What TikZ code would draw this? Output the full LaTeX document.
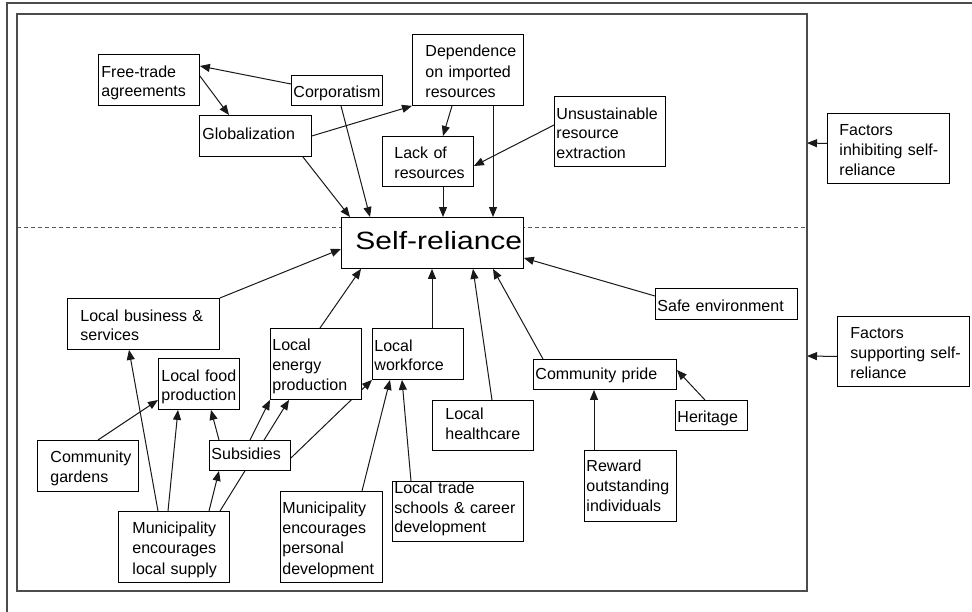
\documentclass[tikz,border=0pt]{standalone}
\usepackage{fontspec}
\setmainfont{Liberation Sans}
\usepackage{graphicx}
\usetikzlibrary{arrows.meta}
\pgfdeclarelayer{background}
\pgfsetlayers{background,main}

% text of the boxes
\newcommand\boxfont{\fontsize{16}{19.5}\selectfont}
% left-aligned lines, optionally raised by #1 pt
\newcommand\txtlines[2][0]{\setbox\strutbox\hbox{\vrule height 17pt depth 2.5pt width 0pt}%
  \raisebox{#1pt}[\height][\depth]{\begin{tabular}{@{}l@{}}#2\end{tabular}}}

\tikzset{
  box/.style={draw=black, line width=0.9pt, fill=white, anchor=north west,
    inner ysep=0pt, align=left, font=\boxfont},
  arr/.style={draw=black!90, line width=1pt, -{Triangle[length=10pt,width=8pt]}},
  frameline/.style={draw=black!70, line width=1.3pt},
  divider/.style={draw=black!65, line width=0.8pt, dash pattern=on 4pt off 3pt}
}

% \mkbox[raise]{name}{x}{y}{width}{height}{padding}{text}
\newcommand\mkbox[8][0]{%
  \pgfmathsetmacro\boxtw{#5-2*#7}%
  \node[box, inner xsep=#7pt, text width=\boxtw pt, minimum width=#5pt,
    minimum height=#6pt] (#2) at (#3,#4) {\txtlines[#1]{#8}};}

\begin{document}
\begin{tikzpicture}[x=1pt, y=-1pt]
\useasboundingbox (0,0) rectangle (972,611);
\clip (0,0) rectangle (972,611);
\begin{pgfonlayer}{background}
  \fill[white] (0,0) rectangle (972,611);
\end{pgfonlayer}

% outer and inner frames
\draw[frameline] (7,3) rectangle (985,625);
\node[frameline, anchor=north west, minimum width=790pt, minimum height=577pt,
  inner sep=0pt, outer sep=0pt] (frame) at (17,14) {};

% factors inhibiting self-reliance
\mkbox{ft}{98}{54}{101}{51}{3}{Free-trade\\agreements}
\mkbox{corp}{291}{75}{91}{30}{2}{Corporatism}
\mkbox[4]{glob}{199}{115}{112}{41}{3}{Globalization}
\mkbox{dep}{412}{34}{111}{71}{13}{Dependence\\on imported\\resources}
\mkbox{lack}{382}{136}{91}{50}{12}{Lack of\\resources}
\mkbox{uns}{554}{96}{111}{70}{2}{Unsustainable\\resource\\extraction}

% central node
\node[box, font=\fontsize{25}{30}\selectfont, inner xsep=14pt, text width=154pt,
  minimum width=182pt, minimum height=51pt, text height=20pt, text depth=7pt]
  (sr) at (341,217) {\scalebox{1.2}[1]{Self-reliance}};

% factors supporting self-reliance
\mkbox{lb}{67}{298}{152}{51}{13}{Local business \&\\services}
\mkbox{lfp}{158}{358}{81}{51}{3}{Local food\\production}
\mkbox{len}{270}{328}{91}{71}{2}{Local\\energy\\production}
\mkbox{lw}{372}{328}{91}{51}{2}{Local\\workforce}
\mkbox{cg}{37}{440}{101}{51}{13}{Community\\gardens}
\mkbox[3]{sub}{209}{440}{81}{30}{2}{Subsidies}
\mkbox{mls}{118}{511}{111}{71}{14}{Municipality\\encourages\\local supply}
\mkbox{mpd}{280}{491}{102}{91}{2}{Municipality\\encourages\\personal\\development}
\mkbox[5]{lts}{392}{481}{131}{60}{2}{Local trade\\schools \& career\\development}
\mkbox[3]{lh}{432}{400}{101}{50}{13}{Local\\healthcare}
\mkbox[2]{cp}{533}{359}{143}{30}{2}{Community pride}
\mkbox[1.5]{rw}{584}{450}{92}{71}{2}{Reward\\outstanding\\individuals}
\mkbox{her}{675}{400}{72}{30}{2}{Heritage}
\mkbox{se}{655}{288}{142}{31}{2}{Safe environment}

% legend boxes outside the frame
\mkbox{fi}{827}{113}{122}{70}{12}{Factors\\inhibiting self-\\reliance}
\mkbox{fs}{837}{316}{132}{70}{13}{Factors\\supporting self-\\reliance}
\coordinate (fiin) at (807,143);
\coordinate (fsin) at (807,356);

\begin{pgfonlayer}{background}
  % divider between inhibiting and supporting factors
  \draw[divider] ([shift={(0,213)}]frame.north west) -- ([shift={(0,213)}]frame.north east);

  % inhibiting links
  \draw[arr] ([shift={(0,9)}]corp.north west) -- ([shift={(0,12)}]ft.north east);
  \draw[arr] ([shift={(0,22)}]ft.north east) -- ([shift={(30,0)}]glob.north west);
  \draw[arr] (glob.east) -- (dep.south west);
  \draw[arr] ([shift={(-9,0)}]glob.south east) -- ([shift={(9,0)}]sr.north west);
  \draw[arr] ([shift={(50,0)}]corp.south west) -- ([shift={(29,0)}]sr.north west);
  \draw[arr] ([shift={(40,0)}]dep.south west) -- ([shift={(61,0)}]lack.north west);
  \draw[arr] ([shift={(81,0)}]dep.south west) -- ([shift={(152,0)}]sr.north west);
  \draw[arr] ([shift={(61,0)}]lack.south west) -- ([shift={(102,0)}]sr.north west);
  \draw[arr] ([shift={(0,29)}]uns.north west) -- ([shift={(0,30)}]lack.north east);

  % supporting links
  \draw[arr] (lb.north east) -- ([shift={(0,32)}]sr.north west);
  \draw[arr] ([shift={(50,0)}]len.north west) -- ([shift={(20,0)}]sr.south west);
  \draw[arr] ([shift={(60,0)}]lw.north west) -- ([shift={(91,0)}]sr.south west);
  \draw[arr] ([shift={(60,0)}]lh.north west) -- ([shift={(132,0)}]sr.south west);
  \draw[arr] ([shift={(10,0)}]cp.north west) -- ([shift={(152,0)}]sr.south west);
  \draw[arr] ([shift={(0,8)}]se.north west) -- ([shift={(0,41)}]sr.north east);
  \draw[arr] ([shift={(30,0)}]her.north west) -- ([shift={(0,11)}]cp.north east);
  \draw[arr] ([shift={(10,0)}]rw.north west) -- ([shift={(61,0)}]cp.south west);
  \draw[arr] ([shift={(61,0)}]cg.north west) -- ([shift={(0,42)}]lfp.north west);
  \draw[arr] ([shift={(40,0)}]mls.north west) -- ([shift={(62,0)}]lb.south west);
  \draw[arr] ([shift={(50,0)}]mls.north west) -- ([shift={(20,0)}]lfp.south west);
  \draw[arr] ([shift={(91,0)}]mls.north west) -- ([shift={(10,0)}]sub.south west);
  \draw[arr] ([shift={(102,0)}]mls.north west) -- ([shift={(19,0)}]len.south west);
  \draw[arr] ([shift={(10,0)}]sub.north west) -- ([shift={(53,0)}]lfp.south west);
  \draw[arr] ([shift={(41,0)}]sub.north west) -- (len.south west);
  \draw[arr] ([shift={(0,18)}]sub.north east) -- (lw.south west);
  \draw[arr] ([shift={(82,0)}]mpd.north west) -- ([shift={(18,0)}]lw.south west);
  \draw[arr] ([shift={(19,0)}]lts.north west) -- ([shift={(30,0)}]lw.south west);

  % legend pointers
  \draw[arr] ([shift={(0,-5)}]fi.west) -- (fiin);
  \draw[arr] ([shift={(0,5)}]fs.west) -- (fsin);
\end{pgfonlayer}
\end{tikzpicture}
\end{document}
